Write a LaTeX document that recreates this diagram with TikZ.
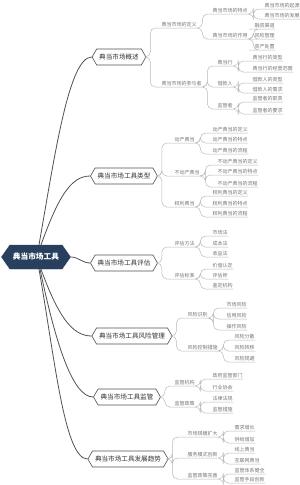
\documentclass[tikz,border=0pt]{standalone}
\usepackage{fontspec}
\setmainfont{Noto Sans CJK SC}
\definecolor{mmnavy}{RGB}{40,64,94}
\definecolor{mmtrunk}{RGB}{80,80,80}
\definecolor{mmtwig}{RGB}{185,185,185}
\definecolor{mmtext}{RGB}{115,115,115}
\usetikzlibrary{shapes.symbols}

\begin{document}
\begin{tikzpicture}[x=1pt,y=1pt,
  root/.style={signal,signal to=west and east,signal pointer angle=110,fill=mmnavy,draw=mmnavy,
    text=white,font=\fontsize{7.7}{8}\selectfont\bfseries,minimum height=24pt,inner xsep=3pt},
  topic/.style={signal,signal to=west and east,signal pointer angle=120,fill=white,draw=mmtrunk,
    line width=0.6pt,text=black!80,font=\fontsize{6.6}{7}\selectfont,minimum height=16pt,inner xsep=2.5pt},
  sub/.style={anchor=south west,inner xsep=0.5pt,inner ysep=1pt,text=mmtext,font=\fontsize{5}{5.5}\selectfont},
  trunk/.style={draw=mmtrunk,line width=0.8pt},
  twig/.style={draw=mmtwig,line width=0.5pt,rounded corners=5pt}]
  \useasboundingbox (0,0) rectangle (300,-485);

  % centre and main topics
  \node[root] (root) at (36,-257) {典当市场工具};
  \node[topic] (b1) at (119,-57) {典当市场概述};
  \node[topic] (b2) at (124,-176) {典当市场工具类型};
  \node[topic] (b3) at (124,-263) {典当市场工具评估};
  \node[topic] (b4) at (132,-336) {典当市场工具风险管理};
  \node[topic] (b5) at (127,-397) {典当市场工具监管};
  \node[topic] (b6) at (128,-459) {典当市场工具发展趋势};

  \draw[trunk] ([xshift=3pt]root.north) to[out=80,in=180,out looseness=1.2,in looseness=0.3] (b1.west);
  \draw[trunk] ([xshift=5pt]root.north) to[out=70,in=180,out looseness=1.5,in looseness=0.6] (b2.west);
  \draw[trunk] (root.east) to[out=0,in=180] (b3.west);
  \draw[trunk] ([xshift=5pt]root.south) to[out=-70,in=180,out looseness=1.5,in looseness=0.6] (b4.west);
  \draw[trunk] ([xshift=4pt]root.south) to[out=-78,in=180,out looseness=1.3,in looseness=0.4] (b5.west);
  \draw[trunk] ([xshift=3pt]root.south) to[out=-80,in=180,out looseness=1.2,in looseness=0.3] (b6.west);

  % branch 1
  \node[sub] (b1a) at (161,-28) {典当市场的定义};
  \node[sub] (b1a1) at (212,-14) {典当市场的特点};
  \node[sub] (b1a1a) at (264,-9) {典当市场的起源};
  \node[sub] (b1a1b) at (264,-19) {典当市场的发展};
  \node[sub] (b1a2) at (212,-39) {典当市场的作用};
  \node[sub] (b1a2a) at (254,-29) {融资渠道};
  \node[sub] (b1a2b) at (254,-39) {风险管理};
  \node[sub] (b1a2c) at (254,-50) {资产处置};
  \node[sub] (b1b) at (161,-87) {典当市场的参与者};
  \node[sub] (b1b1) at (217,-66) {典当行};
  \node[sub] (b1b1a) at (252,-61) {典当行的类型};
  \node[sub] (b1b1b) at (252,-72) {典当行的经营范围};
  \node[sub] (b1b2) at (217,-87) {借款人};
  \node[sub] (b1b2a) at (252,-83) {借款人的类型};
  \node[sub] (b1b2b) at (252,-93) {借款人的需求};
  \node[sub] (b1b3) at (217,-109) {监管者};
  \node[sub] (b1b3a) at (252,-102) {监管者的职责};
  \node[sub] (b1b3b) at (252,-114) {监管者的要求};

  % branch 2
  \node[sub] (b2a) at (174,-143) {动产典当};
  \node[sub] (b2a1) at (212,-133) {动产典当的定义};
  \node[sub] (b2a2) at (212,-143) {动产典当的特点};
  \node[sub] (b2a3) at (212,-154) {动产典当的流程};
  \node[sub] (b2b) at (174,-176) {不动产典当};
  \node[sub] (b2b1) at (217,-165) {不动产典当的定义};
  \node[sub] (b2b2) at (217,-175) {不动产典当的特点};
  \node[sub] (b2b3) at (217,-187) {不动产典当的流程};
  \node[sub] (b2c) at (174,-207) {权利典当};
  \node[sub] (b2c1) at (212,-196) {权利典当的定义};
  \node[sub] (b2c2) at (212,-207) {权利典当的特点};
  \node[sub] (b2c3) at (212,-217) {权利典当的流程};

  % branch 3
  \node[sub] (b3a) at (174,-247) {评估方法};
  \node[sub] (b3a1) at (212,-236) {市场法};
  \node[sub] (b3a2) at (212,-247) {成本法};
  \node[sub] (b3a3) at (212,-257) {收益法};
  \node[sub] (b3b) at (174,-279) {评估标准};
  \node[sub] (b3b1) at (212,-269) {价值认定};
  \node[sub] (b3b2) at (212,-279) {评估师};
  \node[sub] (b3b3) at (212,-289) {鉴定机构};

  % branch 4
  \node[sub] (b4a) at (187,-318) {风险识别};
  \node[sub] (b4a1) at (226,-308) {市场风险};
  \node[sub] (b4a2) at (226,-319) {信用风险};
  \node[sub] (b4a3) at (226,-330) {操作风险};
  \node[sub] (b4b) at (187,-351) {风险控制措施};
  \node[sub] (b4b1) at (234,-340) {风险分散};
  \node[sub] (b4b2) at (234,-351) {风险转移};
  \node[sub] (b4b3) at (234,-362) {风险规避};

  % branch 5
  \node[sub] (b5a) at (174,-386) {监管机构};
  \node[sub] (b5a1) at (212,-379) {政府监管部门};
  \node[sub] (b5a2) at (212,-391) {行业协会};
  \node[sub] (b5b) at (174,-407) {监管政策};
  \node[sub] (b5b1) at (212,-402) {法律法规};
  \node[sub] (b5b2) at (212,-413) {监管措施};

  % branch 6
  \node[sub] (b6a) at (187,-437) {市场规模扩大};
  \node[sub] (b6a1) at (234,-431) {需求增长};
  \node[sub] (b6a2) at (234,-443) {供给增加};
  \node[sub] (b6b) at (187,-458) {服务模式创新};
  \node[sub] (b6b1) at (234,-453) {线上典当};
  \node[sub] (b6b2) at (234,-464) {互联网典当};
  \node[sub] (b6c) at (187,-479) {监管政策完善};
  \node[sub] (b6c1) at (234,-474) {监管体系健全};
  \node[sub] (b6c2) at (234,-483) {监管手段创新};

  % connectors with underlines
  \foreach \p/\c in {b1/b1a,b1/b1b,b2/b2a,b2/b2b,b2/b2c,b3/b3a,b3/b3b,
                     b4/b4a,b4/b4b,b5/b5a,b5/b5b,b6/b6a,b6/b6b,b6/b6c}
    \draw[twig] (\p.east) -- ++(4,0) |- (\c.south west) -- (\c.south east);
  \foreach \p/\c in {b1a/b1a1,b1a/b1a2,b1a1/b1a1a,b1a1/b1a1b,b1a2/b1a2a,b1a2/b1a2b,b1a2/b1a2c,
                     b1b/b1b1,b1b/b1b2,b1b/b1b3,b1b1/b1b1a,b1b1/b1b1b,b1b2/b1b2a,b1b2/b1b2b,b1b3/b1b3a,b1b3/b1b3b,
                     b2a/b2a1,b2a/b2a2,b2a/b2a3,b2b/b2b1,b2b/b2b2,b2b/b2b3,b2c/b2c1,b2c/b2c2,b2c/b2c3,
                     b3a/b3a1,b3a/b3a2,b3a/b3a3,b3b/b3b1,b3b/b3b2,b3b/b3b3,
                     b4a/b4a1,b4a/b4a2,b4a/b4a3,b4b/b4b1,b4b/b4b2,b4b/b4b3,
                     b5a/b5a1,b5a/b5a2,b5b/b5b1,b5b/b5b2,
                     b6a/b6a1,b6a/b6a2,b6b/b6b1,b6b/b6b2,b6c/b6c1,b6c/b6c2}
    \draw[twig] (\p.south east) -- ++(5,0) |- (\c.south west) -- (\c.south east);
\end{tikzpicture}
\end{document}
